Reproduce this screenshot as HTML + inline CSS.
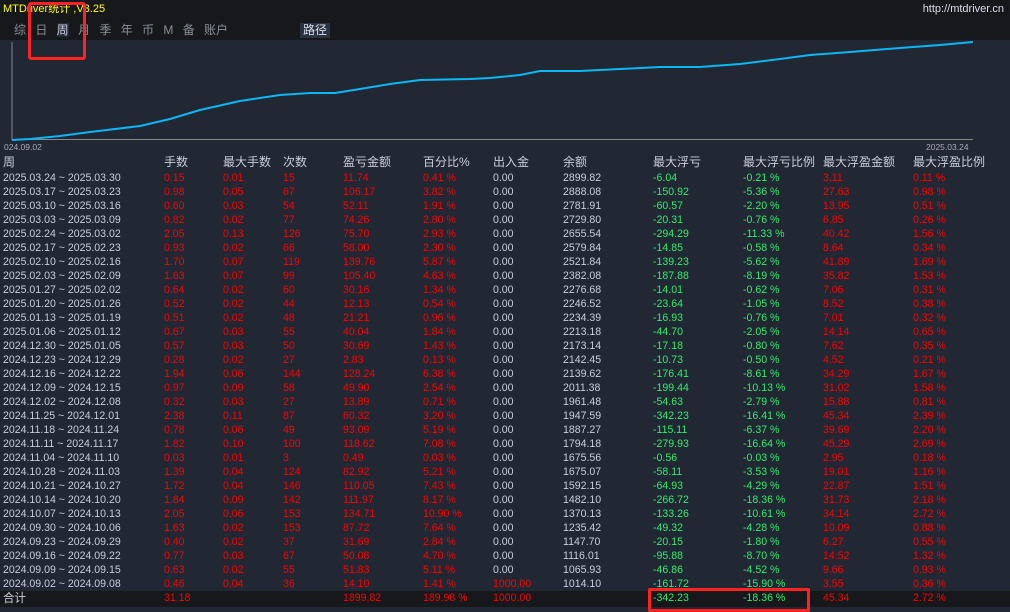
<!DOCTYPE html>
<html><head><meta charset="utf-8"><style>
body{margin:0;width:1010px;height:607px;background:#212733;overflow:hidden;position:relative;font-family:"Liberation Sans","Noto Sans CJK SC",sans-serif;font-size:11px}
.t{position:absolute;white-space:nowrap;line-height:15px}
.d{transform:scaleX(.96);transform-origin:0 0}
.w{color:#c9ced8}.r{color:#f00}.g{color:#2fef6a}
</style></head><body>
<div style="position:absolute;left:0;top:0;width:1010px;height:40px;background:#16181c"></div>
<div class="t" style="left:3px;top:2px;color:#ff0;font-size:11px">MTDriver统计 ,V3.25</div>
<div class="t" style="right:6px;top:2px;color:#dde;font-size:11px">http://mtdriver.cn</div>
<div class="t" style="left:14px;top:23px;color:#8a8f98;font-size:12px;word-spacing:6px">综 日 <span style="background:#252c38;color:#ccd">周</span> 月 季 年 币 M 备 账户</div>
<div class="t" style="left:300px;top:23px;background:#2a3240;color:#dde;font-size:12px;padding:0 3px">路径</div>
<svg style="position:absolute;left:0;top:40px" width="1010" height="112">
<line x1="12" y1="2" x2="12" y2="100" stroke="#888" stroke-width="1"/>
<line x1="12" y1="99.5" x2="973" y2="99.5" stroke="#888" stroke-width="1"/>
<polyline fill="none" stroke="#0bb8f5" stroke-width="2" points="12,100 30,99 60,96 90,92 140,86 170,79 200,70 240,61 280,55 310,53 335,53 360,49 390,44 420,40 470,39 490,38 520,35 540,31 580,31 620,29 660,27 700,27 740,24 780,19 810,15 850,12 900,8 940,5 973,2"/>
<text x="4" y="110" fill="#aab" font-size="8.5" font-family="Liberation Sans,sans-serif">024.09.02</text>
<text x="926" y="110" fill="#aab" font-size="8.5" font-family="Liberation Sans,sans-serif">2025.03.24</text>
</svg>
<div style="position:absolute;left:0;top:591px;width:1010px;height:16px;background:#16181c"></div>
<div id="tb"></div>
<div style="position:absolute;left:28px;top:2px;width:52px;height:52px;border:3px solid #f22;border-radius:3px"></div>
<div style="position:absolute;left:648px;top:588px;width:156px;height:18px;border:3px solid #f22;border-radius:2px"></div>
<script>
var X=[3,164,223,283,343,423,493,563,653,743,823,913];
var H=["周","手数","最大手数","次数","盈亏金额","百分比%","出入金","余额","最大浮亏","最大浮亏比例","最大浮盈金额","最大浮盈比例"];
var D=`2025.03.24 ~ 2025.03.30|0.15|0.01|15|11.74|0.41 %|0.00|2899.82|-6.04|-0.21 %|3.11|0.11 %
2025.03.17 ~ 2025.03.23|0.98|0.05|67|106.17|3.82 %|0.00|2888.08|-150.92|-5.36 %|27.63|0.98 %
2025.03.10 ~ 2025.03.16|0.60|0.03|54|52.11|1.91 %|0.00|2781.91|-60.57|-2.20 %|13.95|0.51 %
2025.03.03 ~ 2025.03.09|0.82|0.02|77|74.26|2.80 %|0.00|2729.80|-20.31|-0.76 %|6.85|0.26 %
2025.02.24 ~ 2025.03.02|2.05|0.13|126|75.70|2.93 %|0.00|2655.54|-294.29|-11.33 %|40.42|1.56 %
2025.02.17 ~ 2025.02.23|0.93|0.02|66|58.00|2.30 %|0.00|2579.84|-14.85|-0.58 %|8.64|0.34 %
2025.02.10 ~ 2025.02.16|1.70|0.07|119|139.76|5.87 %|0.00|2521.84|-139.23|-5.62 %|41.89|1.69 %
2025.02.03 ~ 2025.02.09|1.63|0.07|99|105.40|4.63 %|0.00|2382.08|-187.88|-8.19 %|35.82|1.53 %
2025.01.27 ~ 2025.02.02|0.64|0.02|60|30.16|1.34 %|0.00|2276.68|-14.01|-0.62 %|7.06|0.31 %
2025.01.20 ~ 2025.01.26|0.52|0.02|44|12.13|0.54 %|0.00|2246.52|-23.64|-1.05 %|8.52|0.38 %
2025.01.13 ~ 2025.01.19|0.51|0.02|48|21.21|0.96 %|0.00|2234.39|-16.93|-0.76 %|7.01|0.32 %
2025.01.06 ~ 2025.01.12|0.67|0.03|55|40.04|1.84 %|0.00|2213.18|-44.70|-2.05 %|14.14|0.65 %
2024.12.30 ~ 2025.01.05|0.57|0.03|50|30.69|1.43 %|0.00|2173.14|-17.18|-0.80 %|7.62|0.35 %
2024.12.23 ~ 2024.12.29|0.28|0.02|27|2.83|0.13 %|0.00|2142.45|-10.73|-0.50 %|4.52|0.21 %
2024.12.16 ~ 2024.12.22|1.94|0.06|144|128.24|6.38 %|0.00|2139.62|-176.41|-8.61 %|34.29|1.67 %
2024.12.09 ~ 2024.12.15|0.97|0.09|58|49.90|2.54 %|0.00|2011.38|-199.44|-10.13 %|31.02|1.58 %
2024.12.02 ~ 2024.12.08|0.32|0.03|27|13.89|0.71 %|0.00|1961.48|-54.63|-2.79 %|15.88|0.81 %
2024.11.25 ~ 2024.12.01|2.38|0.11|87|60.32|3.20 %|0.00|1947.59|-342.23|-16.41 %|45.34|2.39 %
2024.11.18 ~ 2024.11.24|0.78|0.06|49|93.09|5.19 %|0.00|1887.27|-115.11|-6.37 %|39.69|2.20 %
2024.11.11 ~ 2024.11.17|1.82|0.10|100|118.62|7.08 %|0.00|1794.18|-279.93|-16.64 %|45.29|2.69 %
2024.11.04 ~ 2024.11.10|0.03|0.01|3|0.49|0.03 %|0.00|1675.56|-0.56|-0.03 %|2.95|0.18 %
2024.10.28 ~ 2024.11.03|1.39|0.04|124|82.92|5.21 %|0.00|1675.07|-58.11|-3.53 %|19.01|1.16 %
2024.10.21 ~ 2024.10.27|1.72|0.04|146|110.05|7.43 %|0.00|1592.15|-64.93|-4.29 %|22.87|1.51 %
2024.10.14 ~ 2024.10.20|1.84|0.09|142|111.97|8.17 %|0.00|1482.10|-266.72|-18.36 %|31.73|2.18 %
2024.10.07 ~ 2024.10.13|2.05|0.06|153|134.71|10.90 %|0.00|1370.13|-133.26|-10.61 %|34.14|2.72 %
2024.09.30 ~ 2024.10.06|1.63|0.02|153|87.72|7.64 %|0.00|1235.42|-49.32|-4.28 %|10.09|0.88 %
2024.09.23 ~ 2024.09.29|0.40|0.02|37|31.69|2.84 %|0.00|1147.70|-20.15|-1.80 %|6.27|0.55 %
2024.09.16 ~ 2024.09.22|0.77|0.03|67|50.08|4.70 %|0.00|1116.01|-95.88|-8.70 %|14.52|1.32 %
2024.09.09 ~ 2024.09.15|0.63|0.02|55|51.83|5.11 %|0.00|1065.93|-46.86|-4.52 %|9.66|0.93 %
2024.09.02 ~ 2024.09.08|0.46|0.04|36|14.10|1.41 %|1000.00|1014.10|-161.72|-15.90 %|3.55|0.36 %
合计|31.18||||1899.82|189.98 %|1000.00||-342.23|-18.36 %|45.34|2.72 %`.split("\n");
var h="";
H.forEach((s,i)=>h+=`<div class="t w" style="left:${X[i]}px;top:155px;font-size:12px">${s}</div>`);
var cls=["w","r","r","r","r","r","w","w","g","g","r","r"];
D.forEach((l,j)=>{var c=l.split("|");if(c.length>12){c.splice(3,1);c[2]="";c[3]="";}
var y=171+j*14;
c.forEach((s,i)=>{var k=cls[i];if(i==6&&s=="1000.00")k="r";
h+=`<div class="t d ${k}" style="left:${X[i]}px;top:${y}px${j==D.length-1&&i==0?';font-size:12px':''}">${s}</div>`})});
document.getElementById("tb").innerHTML=h;
</script>
</body></html>
